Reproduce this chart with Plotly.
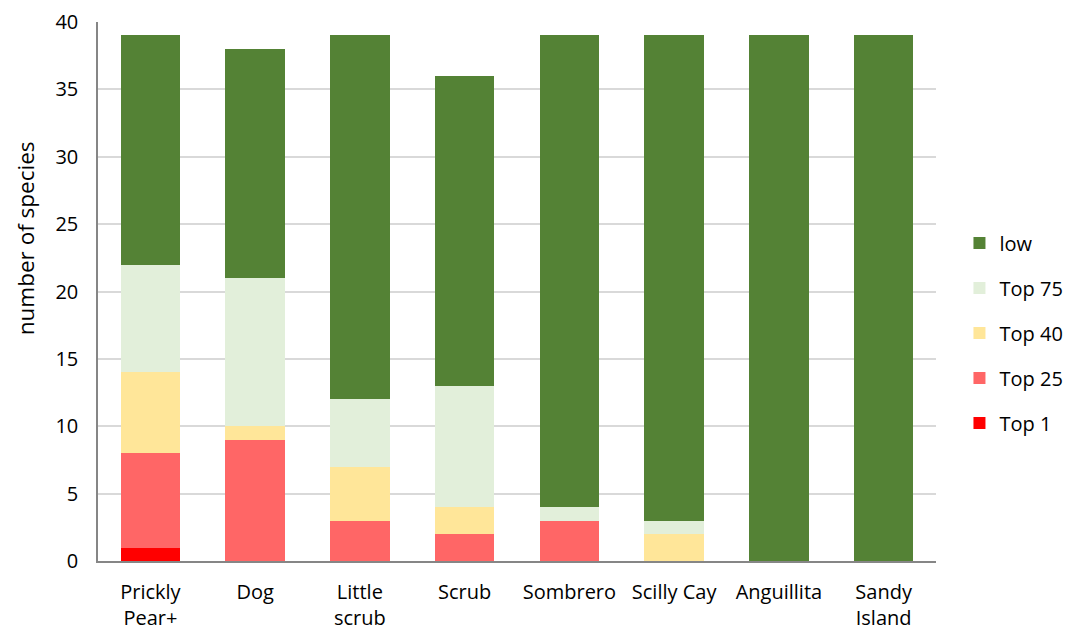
import plotly.graph_objects as go

categories = ["Prickly<br>Pear+", "Dog", "Little<br>scrub", "Scrub", "Sombrero", "Scilly Cay", "Anguillita", "Sandy<br>Island"]
top1 = [1, 0, 0, 0, 0, 0, 0, 0]
top25 = [7, 9, 3, 2, 3, 0, 0, 0]
top40 = [6, 1, 4, 2, 0, 2, 0, 0]
top75 = [8, 11, 5, 9, 1, 1, 0, 0]
low = [17, 17, 27, 23, 35, 36, 39, 39]

series = [
    ("Top 1", top1, "#FF0000", 5),
    ("Top 25", top25, "#FF6666", 4),
    ("Top 40", top40, "#FFE699", 3),
    ("Top 75", top75, "#E2EFDA", 2),
    ("low", low, "#548235", 1),
]

FONT = "Open Sans"
fig = go.Figure()
for name, vals, color, rank in series:
    fig.add_trace(go.Bar(
        x=categories, y=vals, name=name, legendgroup=name, legendrank=rank,
        marker=dict(color=color, line=dict(width=0)),
    ))

fig.add_annotation(
    text="number of species", textangle=-90,
    xref="paper", yref="paper", x=-0.087, y=0.599,
    xanchor="center", yanchor="middle", showarrow=False,
    font=dict(family=FONT, size=22.5, color="#000000"),
)

fig.update_layout(
    width=1067, height=633,
    margin=dict(l=98, r=131, t=22, b=72, autoexpand=False),
    barmode="stack", bargap=0.43,
    plot_bgcolor="white", paper_bgcolor="white",
    font=dict(family=FONT, size=20, color="#000000"),
    legend=dict(
        traceorder="grouped", tracegroupgap=16,
        x=1.028, xanchor="left", y=0.423, yanchor="middle",
        font=dict(size=20, color="#000000"),
        itemwidth=30,
    ),
    yaxis=dict(
        range=[0, 40], dtick=5, showgrid=True, gridcolor="#D9D9D9", gridwidth=1.5,
        showline=True, linecolor="#868686", linewidth=1.5,
        ticks="", ticklabelstandoff=14, automargin=False,
        zeroline=False,
    ),
    xaxis=dict(
        showline=True, linecolor="#868686", linewidth=1.5, ticks="",
        ticklabelstandoff=12, automargin=False,
    ),
)

fig.write_html("out.html")
